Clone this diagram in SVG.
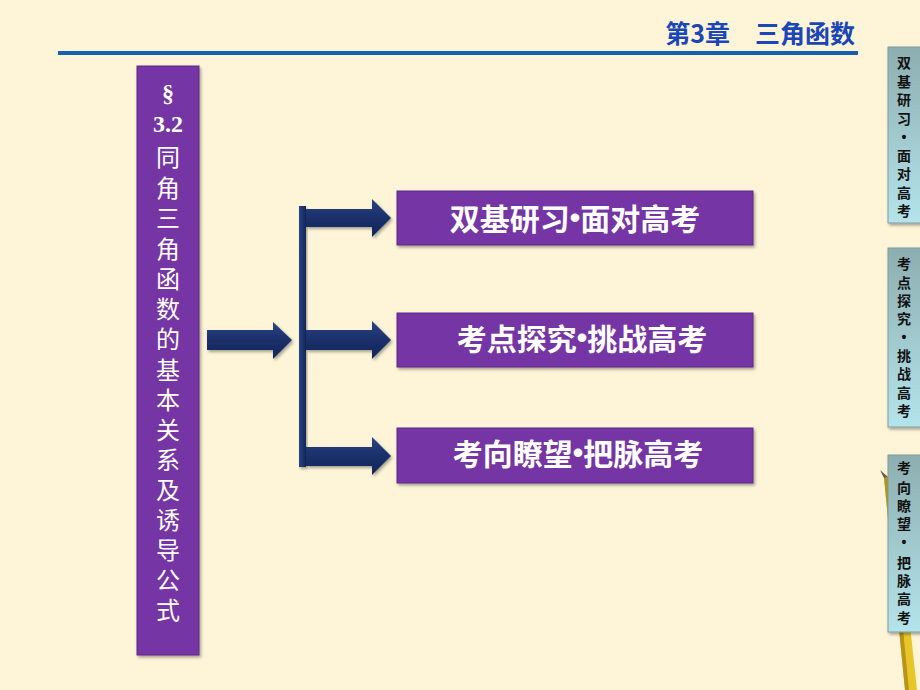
<svg xmlns="http://www.w3.org/2000/svg" width="920" height="690" viewBox="0 0 920 690">
<defs>
<linearGradient id="tabg" x1="0" y1="0" x2="0" y2="1">
<stop offset="0" stop-color="#8DAEB0"/>
<stop offset="1" stop-color="#B4E4EC"/>
</linearGradient>
<linearGradient id="arrg" x1="0" y1="0" x2="0" y2="1">
<stop offset="0" stop-color="#2A4484"/>
<stop offset="0.5" stop-color="#1B2F6A"/>
<stop offset="1" stop-color="#14265A"/>
</linearGradient>
<linearGradient id="barg" x1="0" y1="0" x2="1" y2="0">
<stop offset="0" stop-color="#2A4484"/>
<stop offset="1" stop-color="#14265A"/>
</linearGradient>
<filter id="sh" x="-10%" y="-10%" width="130%" height="130%">
<feDropShadow dx="1.5" dy="2" stdDeviation="1.5" flood-color="#000" flood-opacity="0.35"/>
</filter>
</defs>
<style>
.box{fill:#7434A4;stroke:#5E2A88;stroke-width:1;filter:url(#sh)}
.btxt{font-family:"Noto Sans CJK SC","Liberation Sans",sans-serif;font-weight:bold;font-size:30px;fill:#fff;text-anchor:middle;dominant-baseline:central}
.dot{font-family:"Liberation Sans",sans-serif}
.vtxt{font-family:"Noto Sans CJK SC","Liberation Sans",sans-serif;font-size:24px;fill:#fff;text-anchor:middle;dominant-baseline:central}
.vnum{font-family:"Liberation Serif",serif;font-weight:bold}
.tab{fill:url(#tabg);stroke:#7F9C9E;stroke-width:1;filter:url(#sh)}
.ttxt{font-family:"Noto Sans CJK SC","Liberation Sans",sans-serif;font-weight:bold;font-size:14px;fill:#111;text-anchor:middle;dominant-baseline:central}
.tdot{font-family:"Liberation Sans",sans-serif}
.arr{fill:url(#arrg);filter:url(#sh)}
</style>
<rect width="920" height="690" fill="#FEF5D9"/>
<!-- pencil decoration -->
<g id="pencil">
<polygon points="884,478 894,476 917,690 905,690" fill="#E8C62A"/>
<polygon points="884,478 888,477 909,690 905,690" fill="#B89418"/>
<polygon points="880,470 884,478 888,477" fill="#6B5A3A"/>
</g>
<!-- header -->
<g id="header">
<text x="855" y="32" font-family="'Noto Sans CJK SC','Liberation Sans',sans-serif" font-weight="bold" font-size="25" fill="#1A46B8" text-anchor="end" dominant-baseline="central">第3章　三角函数</text>
<rect x="58" y="51" width="800" height="4" fill="#1560B0"/>
</g>
<!-- left title box -->
<g id="title-box">
<rect class="box" x="137" y="66" width="62" height="589"/>
<text class="vtxt"><tspan class="vnum" x="168" y="93">§</tspan><tspan class="vnum" x="168" y="124">3.2</tspan><tspan x="168" y="155">同</tspan><tspan x="168" y="186">角</tspan><tspan x="168" y="216">三</tspan><tspan x="168" y="247">角</tspan><tspan x="168" y="277">函</tspan><tspan x="168" y="307">数</tspan><tspan x="168" y="337">的</tspan><tspan x="168" y="368">基</tspan><tspan x="168" y="398">本</tspan><tspan x="168" y="428">关</tspan><tspan x="168" y="458">系</tspan><tspan x="168" y="488">及</tspan><tspan x="168" y="518">诱</tspan><tspan x="168" y="548">导</tspan><tspan x="168" y="578">公</tspan><tspan x="168" y="608">式</tspan></text>
</g>
<!-- connectors -->
<g id="connectors">
<polygon class="arr" points="207,330 273,330 273,322 292,340 273,359 273,350 207,350"/>
<rect x="299" y="206" width="7" height="261" fill="url(#barg)" filter="url(#sh)"/>
<polygon class="arr" points="306,209 372,209 372,199 391,218 372,237 372,227 306,227"/>
<polygon class="arr" points="306,330 372,330 372,321 391,340 372,359 372,350 306,350"/>
<polygon class="arr" points="306,447 372,447 372,437 391,456 372,475 372,466 306,466"/>
</g>
<!-- boxes -->
<g id="node-1">
<rect class="box" x="397" y="191" width="356" height="54"/>
<text class="btxt" x="575" y="217">双基研习<tspan class="dot">•</tspan>面对高考</text>
</g>
<g id="node-2">
<rect class="box" x="397" y="313" width="356" height="54"/>
<text class="btxt" x="582" y="337">考点探究<tspan class="dot">•</tspan>挑战高考</text>
</g>
<g id="node-3">
<rect class="box" x="397" y="428" width="356" height="55"/>
<text class="btxt" x="578" y="452">考向瞭望<tspan class="dot">•</tspan>把脉高考</text>
</g>
<!-- right tabs -->
<g id="tab-1">
<rect class="tab" x="888" y="47" width="36" height="176"/>
<text class="ttxt"><tspan x="904" y="62">双</tspan><tspan x="904" y="81">基</tspan><tspan x="904" y="99">研</tspan><tspan x="904" y="118">习</tspan><tspan class="tdot" x="904" y="137">•</tspan><tspan x="904" y="155">面</tspan><tspan x="904" y="173">对</tspan><tspan x="904" y="192">高</tspan><tspan x="904" y="210">考</tspan></text>
</g>
<g id="tab-2">
<rect class="tab" x="888" y="248" width="36" height="179"/>
<text class="ttxt"><tspan x="904" y="263">考</tspan><tspan x="904" y="282">点</tspan><tspan x="904" y="300">探</tspan><tspan x="904" y="318">究</tspan><tspan class="tdot" x="904" y="337">•</tspan><tspan x="904" y="355">挑</tspan><tspan x="904" y="373">战</tspan><tspan x="904" y="392">高</tspan><tspan x="904" y="410">考</tspan></text>
</g>
<g id="tab-3">
<rect class="tab" x="888" y="455" width="36" height="177"/>
<text class="ttxt"><tspan x="904" y="467">考</tspan><tspan x="904" y="487">向</tspan><tspan x="904" y="505">瞭</tspan><tspan x="904" y="523">望</tspan><tspan class="tdot" x="904" y="542">•</tspan><tspan x="904" y="562">把</tspan><tspan x="904" y="580">脉</tspan><tspan x="904" y="598">高</tspan><tspan x="904" y="617">考</tspan></text>
</g>
</svg>
